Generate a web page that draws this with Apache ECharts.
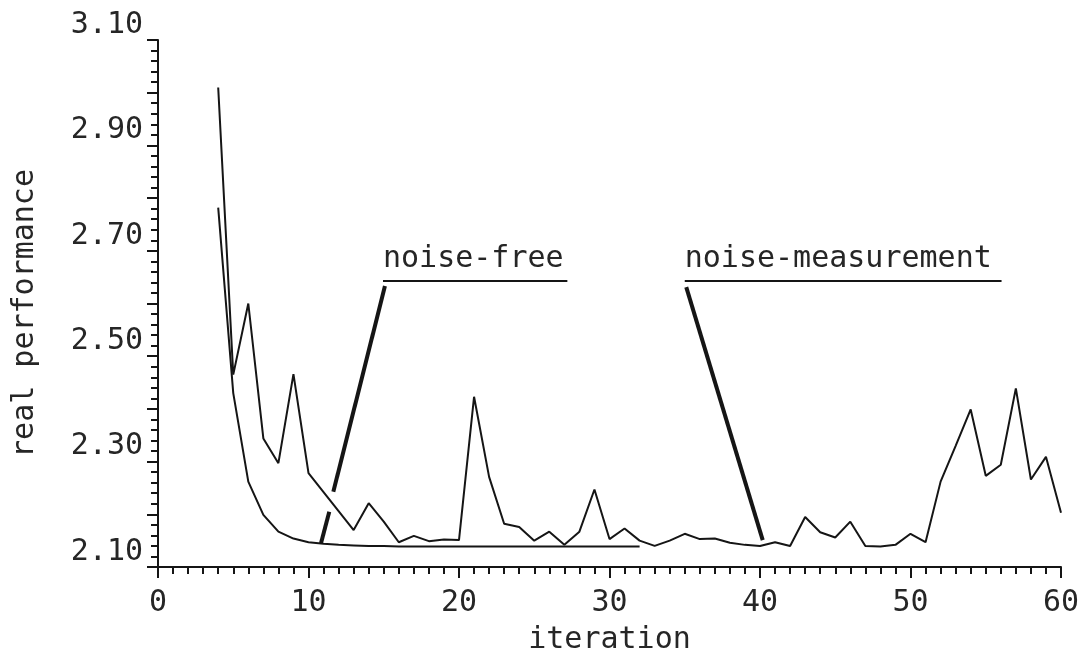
<!DOCTYPE html>
<html>
<head>
<meta charset="utf-8">
<script src="https://cdn.jsdelivr.net/npm/echarts@6/dist/echarts.min.js"></script>
<style>
  html, body { margin: 0; background: #fff; }
  #main { width: 1090px; height: 650px; }
</style>
</head>
<body>
<div id="main"></div>
<script>
// iterations 4..60, noisy measurement run
var noisyIterations = [4, 5, 6, 7, 8, 9, 10, 11, 12, 13, 14, 15, 16, 17, 18, 19, 20,
  21, 22, 23, 24, 25, 26, 27, 28, 29, 30, 31, 32, 33, 34, 35, 36, 37, 38, 39, 40,
  41, 42, 43, 44, 45, 46, 47, 48, 49, 50, 51, 52, 53, 54, 55, 56, 57, 58, 59, 60];
var noisyValues = [3.010, 2.465, 2.600, 2.344, 2.297, 2.466, 2.278, 2.242, 2.206, 2.170,
  2.221, 2.186, 2.147, 2.159, 2.149, 2.152, 2.151, 2.423, 2.271, 2.182,
  2.176, 2.150, 2.167, 2.142, 2.167, 2.247, 2.153, 2.173, 2.150, 2.140,
  2.150, 2.163, 2.153, 2.154, 2.146, 2.142, 2.140, 2.147, 2.140, 2.195,
  2.166, 2.156, 2.186, 2.140, 2.139, 2.142, 2.163, 2.147, 2.262, 2.330,
  2.399, 2.273, 2.294, 2.439, 2.266, 2.309, 2.203];

// iterations 4..32, noise-free run
var freeIterations = [4, 5, 6, 7, 8, 9, 10, 11, 12, 13, 14, 15, 16, 17, 18, 19, 20,
  21, 22, 23, 24, 25, 26, 27, 28, 29, 30, 31, 32];
var freeValues = [2.782, 2.430, 2.262, 2.199, 2.167, 2.154, 2.147, 2.144, 2.142, 2.141,
  2.140, 2.140, 2.139, 2.139, 2.139, 2.139, 2.139, 2.139, 2.139, 2.139,
  2.139, 2.139, 2.139, 2.139, 2.139, 2.139, 2.139, 2.139, 2.139];

var yTickLabels = ['2.10', '2.30', '2.50', '2.70', '2.90', '3.10'];
var xTickLabels = ['0', '10', '20', '30', '40', '50', '60'];

var FONT = 'DejaVu Sans Mono';
var INK = '#151515';
var TEXT = '#262626';

function pairs(xs, ys) {
  var out = [];
  for (var i = 0; i < xs.length; i++) out.push([xs[i], ys[i]]);
  return out;
}

var myChart = echarts.init(document.getElementById('main'));

var thick = { color: INK, width: 4, type: 'solid' };
var thin = { color: INK, width: 2, type: 'solid' };

myChart.setOption({
  animation: false,
  backgroundColor: '#fff',
  grid: { left: 158, right: 29, top: 40, bottom: 83, outerBoundsMode: 'none', containLabel: false },
  xAxis: {
    type: 'value',
    min: 0, max: 60, interval: 10,
    name: 'iteration',
    nameLocation: 'middle',
    nameGap: 58,
    nameTextStyle: { fontFamily: FONT, fontSize: 30, color: TEXT },
    axisLine: { lineStyle: { color: INK, width: 2 } },
    axisTick: { inside: false, length: 11, lineStyle: { color: INK, width: 2 } },
    minorTick: { show: true, splitNumber: 10, length: 7, lineStyle: { color: INK, width: 2 } },
    splitLine: { show: false },
    axisLabel: {
      margin: 21, fontFamily: FONT, fontSize: 30, color: TEXT,
      formatter: function (v) {
        var s = String(Math.round(v));
        return xTickLabels.indexOf(s) >= 0 ? s : '';
      }
    }
  },
  yAxis: {
    type: 'value',
    min: 2.1, max: 3.1, interval: 0.1,
    name: 'real performance',
    nameLocation: 'middle',
    nameGap: 118,
    nameTextStyle: { fontFamily: FONT, fontSize: 30, color: TEXT, padding: [0, 20, 0, 0] },
    axisLine: { show: true, lineStyle: { color: INK, width: 2 } },
    axisTick: { show: true, length: 11, lineStyle: { color: INK, width: 2 } },
    minorTick: { show: true, splitNumber: 5, length: 7, lineStyle: { color: INK, width: 2 } },
    splitLine: { show: false },
    axisLabel: {
      margin: 15, fontFamily: FONT, fontSize: 30, color: TEXT,
      verticalAlign: 'bottom',
      formatter: function (v) {
        var s = v.toFixed(2);
        return yTickLabels.indexOf(s) >= 0 ? s : '';
      }
    }
  },
  series: [
    {
      name: 'noise-measurement',
      type: 'line',
      data: pairs(noisyIterations, noisyValues),
      showSymbol: false,
      lineStyle: { color: INK, width: 2 },
      z: 3
    },
    {
      name: 'noise-free',
      type: 'line',
      data: pairs(freeIterations, freeValues),
      showSymbol: false,
      lineStyle: { color: INK, width: 2 },
      z: 3,
      markLine: {
        silent: true,
        symbol: ['none', 'none'],
        label: { show: false },
        data: [
          // underlines under the two labels
          [{ coord: [14.95, 2.643], lineStyle: thin }, { coord: [27.2, 2.643] }],
          [{ coord: [35.0, 2.643], lineStyle: thin }, { coord: [56.05, 2.643] }],
          // leader for noise-free (broken where it crosses the noisy curve)
          [{ coord: [15.08, 2.633], lineStyle: thick }, { coord: [11.65, 2.243] }],
          [{ coord: [11.38, 2.205], lineStyle: thick }, { coord: [10.83, 2.145] }],
          // leader for noise-measurement
          [{ coord: [35.1, 2.631], lineStyle: thick }, { coord: [40.18, 2.151] }]
        ]
      }
    }
  ]
});

// curve labels sit on their underlines
var labels = [
  { text: 'noise-free', at: [14.95, 2.643] },
  { text: 'noise-measurement', at: [35.0, 2.643] }
];
var graphics = labels.map(function (l) {
  var p = myChart.convertToPixel({ gridIndex: 0 }, l.at);
  return {
    type: 'text',
    x: p[0],
    y: p[1] - 7,
    style: {
      text: l.text,
      font: '30px "' + FONT + '"',
      fill: TEXT,
      align: 'left',
      verticalAlign: 'bottom'
    }
  };
});
myChart.setOption({ graphic: graphics });
</script>
</body>
</html>
